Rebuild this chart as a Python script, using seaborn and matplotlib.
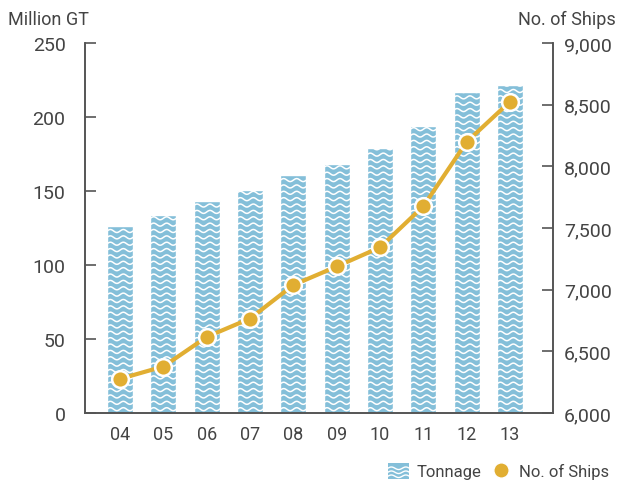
import numpy as np
import seaborn as sns
import matplotlib.pyplot as plt
from matplotlib.lines import Line2D
from matplotlib.patches import Rectangle
from matplotlib.legend_handler import HandlerBase
from matplotlib.ticker import FuncFormatter

years = ["04", "05", "06", "07", "08", "09", "10", "11", "12", "13"]
tonnage = [126.2, 133.6, 143.5, 151.0, 161.0, 168.0, 178.9, 194.1, 216.7, 221.9]
ships = [6277, 6377, 6617, 6766, 7038, 7188, 7343, 7677, 8199, 8525]

BAR = "#84BFD9"
GOLD = "#E1AE32"
TXT = "#444444"

sns.set_theme(style="white")
plt.rcParams["font.family"] = ["Roboto", "DejaVu Sans"]

fig = plt.figure(figsize=(6.24, 4.85), dpi=100)
ax = fig.add_axes([85 / 624, 1 - 414 / 485, (553 - 85) / 624, (414 - 44) / 485])

sns.barplot(x=years, y=tonnage, color=BAR, width=0.6, saturation=1, ax=ax)

ax.set_xlim(-0.81, 9.99)
ax.set_ylim(0, 250)

# white wave texture, clipped to each bar
period, step, amp = 0.30, 4.3, 1.0
for bar in ax.patches:
    x0, w, h = bar.get_x(), bar.get_width(), bar.get_height()
    xs = np.linspace(x0 - 0.05, x0 + w + 0.05, 80)
    for yb in np.arange(step * 0.6, h + step, step):
        ys = yb + amp * np.sin(2 * np.pi * (xs - x0) / period)
        ln, = ax.plot(xs, ys, color="white", lw=1.1, solid_capstyle="butt")
        ln.set_clip_path(bar)

ax2 = ax.twinx()
sns.lineplot(x=np.arange(len(years)), y=ships, color=GOLD, lw=3,
             marker="o", markersize=12, markeredgecolor="white",
             markeredgewidth=1.8, ax=ax2)
ax2.set_ylim(6000, 9000)
ax2.set_yticks([6000, 6500, 7000, 7500, 8000, 8500, 9000])
ax2.yaxis.set_major_formatter(FuncFormatter(lambda v, p: f"{int(v):,}"))
ax.set_yticks([0, 50, 100, 150, 200, 250])

for a in (ax, ax2):
    for s in a.spines.values():
        s.set_color("#555555")
        s.set_linewidth(1.2)
    a.spines["top"].set_visible(False)
    a.set_xlabel("")
    a.set_ylabel("")

ax.tick_params(axis="y", direction="in", length=8, width=1.2, color="#555555",
               labelsize=14, labelcolor=TXT, pad=14)
ax2.tick_params(axis="y", direction="in", length=8, width=1.2, color="#555555",
                labelsize=14, labelcolor=TXT, pad=8)
ax.tick_params(axis="x", length=0, labelsize=13, labelcolor=TXT, pad=9)

fig.text(8 / 624, 1 - 20 / 485, "Million GT", fontsize=13, color=TXT, va="center", ha="left")
fig.text(616 / 624, 1 - 20 / 485, "No. of Ships", fontsize=13, color=TXT, va="center", ha="right")


class WaveHandler(HandlerBase):
    def create_artists(self, legend, orig, xd, yd, width, height, fontsize, trans):
        rect = Rectangle((-xd, -yd), width, height, facecolor=BAR, edgecolor="none", transform=trans)
        arts = [rect]
        xs = np.linspace(-xd, -xd + width, 30)
        for k in range(1, 4):
            yb = -yd + height * k / 4 - height * 0.1
            ys = yb + height * 0.08 * np.sin(2 * np.pi * (xs + xd) / (width / 1.5))
            arts.append(Line2D(xs, ys, color="white", lw=1.0, transform=trans))
        return arts


h_bar = Rectangle((0, 0), 1, 1)
h_pt = Line2D([], [], color=GOLD, marker="o", markersize=11, lw=0,
              markeredgecolor="white")
fig.legend([h_bar, h_pt], ["Tonnage", "No. of Ships"],
           handler_map={Rectangle: WaveHandler()},
           loc="center right", bbox_to_anchor=(0.982, 1 - 472 / 485), ncol=2,
           frameon=False, fontsize=12, handlelength=1.3, handleheight=1.1,
           handletextpad=0.45, columnspacing=0.5, labelcolor=TXT,
           borderaxespad=0, borderpad=0.2)

fig.savefig("out.png", dpi=100)
